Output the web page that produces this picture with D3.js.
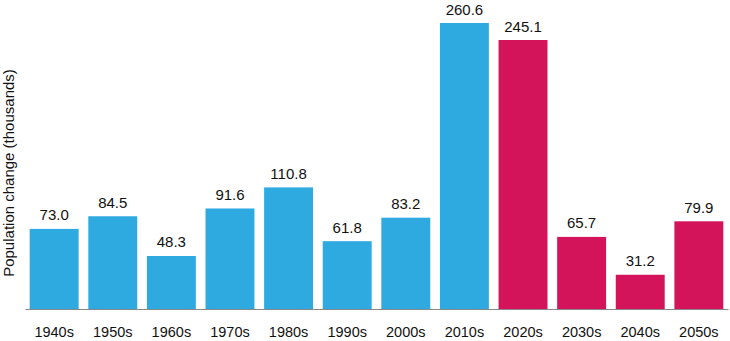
<!DOCTYPE html>
<html><head><meta charset="utf-8">
<script src="https://cdn.jsdelivr.net/npm/d3@7"></script>
<style>body{margin:0;background:#fff}svg{display:block}text{font-family:"Liberation Sans",Arial,Helvetica,sans-serif;fill:#111}</style>
</head><body><svg id="c" width="730" height="341"></svg>
<script>
const decades = ["1940s","1950s","1960s","1970s","1980s","1990s","2000s","2010s","2020s","2030s","2040s","2050s"];
const values = [73.0,84.5,48.3,91.6,110.8,61.8,83.2,260.6,245.1,65.7,31.2,79.9];
const projected = [false,false,false,false,false,false,false,false,true,true,true,true];
const yLabel = "Population change (thousands)";

const svg = d3.select("#c");
const x = d3.scaleBand().domain(decades).range([25, 728]).paddingInner(0.165).paddingOuter(0.08);
const y = d3.scaleLinear().domain([0, 260.6]).range([309, 23]);

svg.selectAll("rect.bar").data(decades).join("rect").attr("class","bar")
  .attr("x", d => x(d)).attr("width", x.bandwidth())
  .attr("y", (d,i) => y(values[i])).attr("height", (d,i) => y(0) - y(values[i]))
  .attr("fill", (d,i) => projected[i] ? "#d4145a" : "#2eaae1");

svg.selectAll("text.val").data(decades).join("text").attr("class","val")
  .attr("x", d => x(d) + x.bandwidth()/2).attr("y", (d,i) => y(values[i]) - 8.5)
  .attr("text-anchor","middle").attr("font-size", 15)
  .text((d,i) => values[i].toFixed(1));

const ax = svg.append("g").attr("transform", `translate(0,${y(0)})`)
  .call(d3.axisBottom(x).tickSize(0).tickPadding(18));
ax.select(".domain").attr("stroke","#888").attr("stroke-width",1.2);
ax.selectAll("text").attr("font-size",14.5).attr("fill","#111")
  .style("font-family",'"Liberation Sans",Arial,sans-serif');

svg.append("text").attr("transform","translate(14,173) rotate(-90)")
  .attr("text-anchor","middle").attr("font-size",15).text(yLabel);
</script></body></html>
